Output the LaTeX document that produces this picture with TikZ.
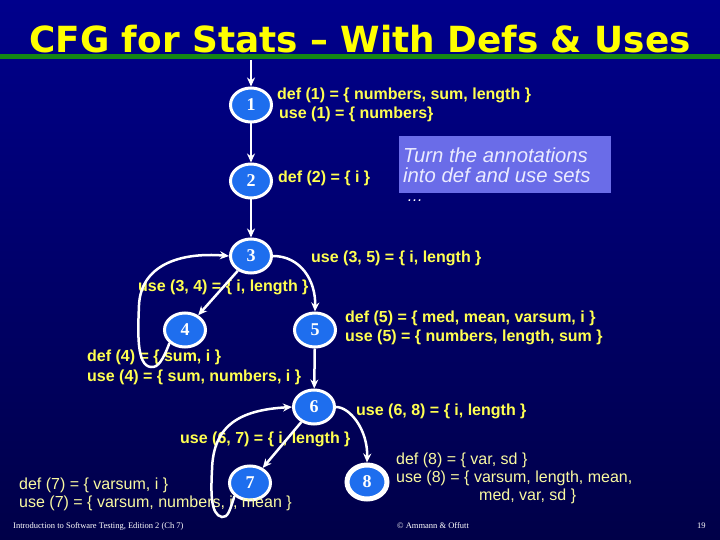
\documentclass[tikz,border=0pt]{standalone}
\usepackage{fontspec}
\usepackage{graphicx}
\setmainfont{Liberation Sans}
\newfontfamily\titlefont{DejaVu Sans}
\newfontfamily\numfont{Liberation Serif}
\usetikzlibrary{shapes.geometric,arrows.meta}
\definecolor{bgtop}{RGB}{0,0,140}
\definecolor{bgbot}{RGB}{0,0,72}
\definecolor{nodeblue}{RGB}{30,110,238}
\definecolor{lblyellow}{RGB}{255,255,80}
\definecolor{lightyellow}{RGB}{250,250,160}
\definecolor{boxblue}{RGB}{106,108,232}
\definecolor{titleyellow}{RGB}{255,255,0}
\definecolor{linegreen}{RGB}{20,135,20}
\tikzset{
  cfgnode/.style={ellipse, draw=white, line width=3pt, fill=nodeblue, minimum width=41pt, minimum height=34pt, inner sep=0pt, text=white, font=\numfont\bfseries\fontsize{18}{18}\selectfont},
  lbl/.style={anchor=west, inner sep=0pt, text=lblyellow, font=\bfseries\fontsize{16}{16}\selectfont},
  lbllight/.style={anchor=west, inner sep=0pt, text=lightyellow, font=\fontsize{16}{16}\selectfont},
  edge/.style={draw=white, line width=2.5pt, -{Stealth[length=9pt,width=8pt]}},
  foot/.style={anchor=west, inner sep=0pt, text=white, font=\numfont\fontsize{8.5}{8.5}\selectfont}
}
\begin{document}
\begin{tikzpicture}[x=1pt,y=-1pt]
\useasboundingbox (0,0) rectangle (720,540);
\shade[top color=bgtop, bottom color=bgbot] (0,0) rectangle (720,540);
% title
\node[anchor=base, text=titleyellow, inner sep=0pt, font=\titlefont\bfseries\fontsize{36}{36}\selectfont] (title) at (360,53) {\scalebox{0.995}[1]{CFG for Stats – With Defs \& Uses}};
\draw[linegreen, line width=5pt] (0,57) coordinate (gl) -- (720,57) coordinate (gr);
% nodes
\node[cfgnode] (n1) at (251,105) {1};
\node[cfgnode] (n2) at (251,181) {2};
\node[cfgnode] (n3) at (251,256) {3};
\node[cfgnode] (n4) at (185,330) {4};
\node[cfgnode] (n5) at (315,330) {5};
\node[cfgnode] (n6) at (314,407) {6};
\node[cfgnode] (n7) at (250,483) {7};
\node[cfgnode, line width=5pt, minimum width=40pt, minimum height=34pt] (n8) at (367,482) {8};
\coordinate (e0) at (251,60);
% labels
\node[lbl] (d1) at (277,95) {def (1) = \{ numbers, sum, length \}};
\node[lbl] (u1) at (279,114) {use (1) = \{ numbers\}};
\node[lbl] (d2) at (278,178) {def (2) = \{ i \}};
\node[lbl] (u35) at (311,258) {use (3, 5) = \{ i, length \}};
\node[lbl] (u34) at (138,287) {use (3, 4) = \{ i, length \}};
\node[lbl] (d5) at (345,318) {def (5) = \{ med, mean, varsum, i \}};
\node[lbl] (u5) at (345,337) {use (5) = \{ numbers, length, sum \}};
\node[lbl] (d4) at (87,357) {def (4) = \{ sum, i \}};
\node[lbl] (u4) at (87,377) {use (4) = \{ sum, numbers, i \}};
\node[lbl] (u68) at (356,411) {use (6, 8) = \{ i, length \}};
\node[lbl] (u67) at (180,439) {use (6, 7) = \{ i, length \}};
\node[lbllight] (d7) at (19,485) {def (7) = \{ varsum, i \}};
\node[lbllight] (u7) at (19,503) {use (7) = \{ varsum, numbers, i, mean \}};
\node[lbllight] (d8) at (396,460) {def (8) = \{ var, sd \}};
\node[lbllight] (u8) at (396,478) {use (8) = \{ varsum, length, mean,};
\node[lbllight] (u8b) at (479,496) {med, var, sd \}};
% annotation box
\node[draw=none, fill=boxblue, minimum width=212pt, minimum height=57pt, inner sep=0pt] (box) at (505,164.5) {};
\node[anchor=west, inner sep=0pt, text=white!92!blue, font=\itshape\fontsize{20.3}{20}\selectfont, align=left] (boxtxt) at (403,165) {Turn the annotations\\into def and use sets};
\node[anchor=west, inner sep=0pt, text=white, font=\itshape\fontsize{16}{16}\selectfont] (dots) at (407,201) {\dots};
% footer
\node[foot] (f1) at (13,526) {Introduction to Software Testing, Edition 2 (Ch 7)};
\node[foot] (f2) at (397,526) {© Ammann \& Offutt};
\node[foot] (f3) at (697,526) {19};
% edges
\draw[edge] (e0) -- (n1);
\draw[edge] (n1) -- (n2);
\draw[edge] (n2) -- (n3);
\draw[edge] (n3) -- (n4);
\draw[edge] (n3.east) .. controls (300,256) and (316,280) .. (n5.north);
\draw[edge] (n4.south west) .. controls (163,360) and (158,368) .. (151,367) .. controls (136,366) and (138,330) .. (139,305) .. controls (141,265) and (180,252) .. (n3.west);
\draw[edge] (n5) -- (n6);
\draw[edge] (n6) -- (n7);
\draw[edge] (n6.east) .. controls (350,407) and (368,430) .. (n8.north);
\draw[edge] (n7.south west) .. controls (230,510) and (228,518) .. (222,517) .. controls (210,515) and (211,490) .. (212,470) .. controls (213,425) and (240,410) .. (n6.west);
\end{tikzpicture}
\end{document}
